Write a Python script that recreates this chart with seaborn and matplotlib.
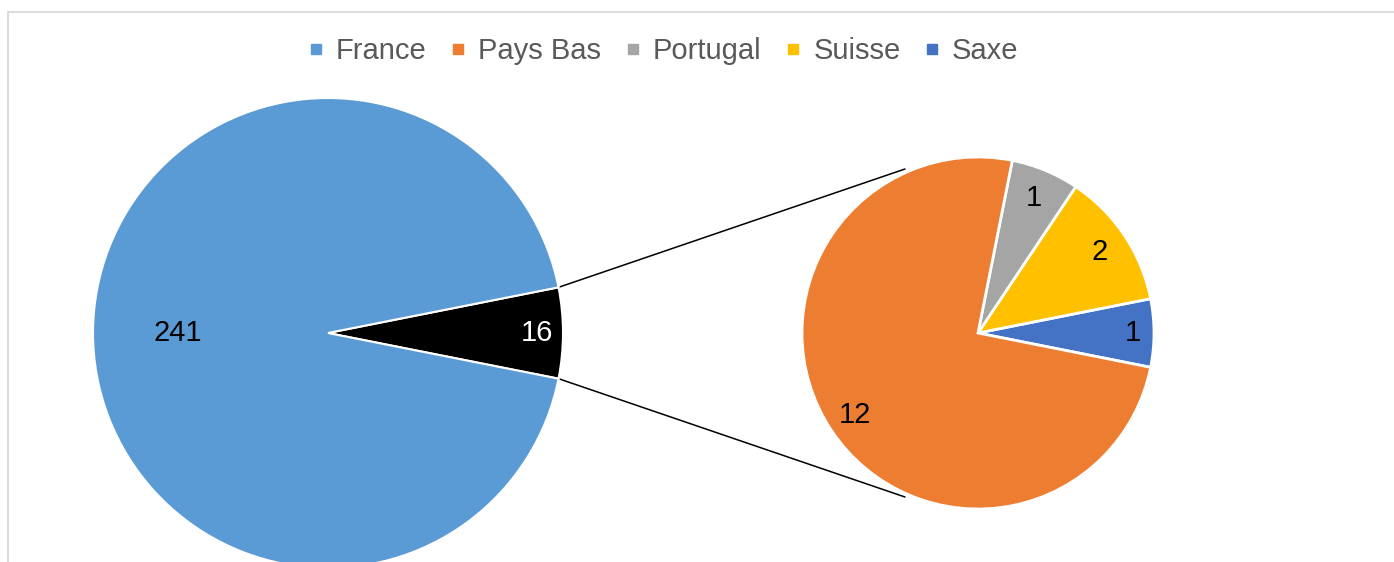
"""Pie-of-pie chart: France vs. the other countries, with a breakdown of the rest."""

import matplotlib

matplotlib.use("Agg")
import matplotlib.pyplot as plt
import numpy as np
import seaborn as sns
from matplotlib.lines import Line2D

# Data
COUNTRIES = ["France", "Pays Bas", "Portugal", "Suisse", "Saxe"]
COUNTS = [241, 12, 1, 2, 1]
COLORS = ["#5b9bd5", "#ed7d31", "#a5a5a5", "#ffc000", "#4472c4"]
OTHER_COLOR = "#000000"

W, H = 1394, 562
FS = 21


def label_at(ax, wedge, center, radius, dist, color):
    mid = np.deg2rad((wedge.theta1 + wedge.theta2) / 2)
    x = center[0] + dist * radius * np.cos(mid)
    y = center[1] + dist * radius * np.sin(mid)
    ax.text(x, y, wedge.get_label(), ha="center", va="center",
            color=color, fontsize=FS)


def main() -> None:
    sns.set_theme(style="white")
    plt.rcParams["font.family"] = ["Liberation Sans", "DejaVu Sans"]

    fig = plt.figure(figsize=(W / 100, H / 100), dpi=100)
    ax = fig.add_axes([0, 0, 1, 1])

    main_vals = [sum(COUNTS[1:]), COUNTS[0]]
    main_cols = [OTHER_COLOR, COLORS[0]]
    half = main_vals[0] / sum(main_vals) * 180

    c1, r1 = (328, H - 333), 235
    wedges1, _ = ax.pie(
        main_vals, colors=main_cols, startangle=-half, counterclock=True,
        center=c1, radius=r1,
        wedgeprops=dict(edgecolor="white", linewidth=1.5),
    )
    for w, v in zip(wedges1, main_vals):
        w.set_label(str(v))
    label_at(ax, wedges1[0], c1, r1, 0.89, "white")
    label_at(ax, wedges1[1], c1, r1, 0.64, "black")

    # secondary pie: Saxe, Suisse, Portugal, Pays Bas counter-clockwise
    sub_vals = COUNTS[1:][::-1]
    sub_cols = COLORS[1:][::-1]
    sub_half = sub_vals[0] / sum(sub_vals) * 180
    c2, r2 = (978, H - 333), 176
    wedges2, _ = ax.pie(
        sub_vals, colors=sub_cols, startangle=-sub_half, counterclock=True,
        center=c2, radius=r2,
        wedgeprops=dict(edgecolor="white", linewidth=2),
    )
    for w, v, d in zip(wedges2, sub_vals, [0.88, 0.83, 0.83, 0.84]):
        w.set_label(str(v))
        label_at(ax, w, c2, r2, d, "black")

    # connector lines between the pies
    for a1, a2 in [(half, 114), (-half, -114)]:
        t1, t2 = np.deg2rad(a1), np.deg2rad(a2)
        ax.plot(
            [c1[0] + r1 * np.cos(t1), c2[0] + 1.02 * r2 * np.cos(t2)],
            [c1[1] + r1 * np.sin(t1), c2[1] + 1.02 * r2 * np.sin(t2)],
            color="black", lw=1.1, zorder=0,
        )

    ax.set_xlim(0, W)
    ax.set_ylim(0, H)
    ax.set_aspect("equal")
    ax.axis("off")

    handles = [
        Line2D([], [], marker="s", linestyle="", color=c, markersize=7)
        for c in COLORS
    ]
    fig.legend(
        handles, COUNTRIES, loc="center", ncol=5, frameon=False,
        bbox_to_anchor=(662 / W, 1 - 51 / H), fontsize=FS,
        labelcolor="#595959", handlelength=0.7, handletextpad=0.35,
        columnspacing=0.72,
    )

    # chart-area border (top and left visible)
    border = dict(transform=fig.transFigure, color="#d9d9d9", lw=1.3)
    fig.add_artist(Line2D([8 / W, 8 / W], [0, 1 - 12 / H], **border))
    fig.add_artist(Line2D([8 / W, 1], [1 - 12 / H, 1 - 12 / H], **border))

    fig.savefig("out.png", dpi=100)
    plt.close(fig)


if __name__ == "__main__":
    main()
